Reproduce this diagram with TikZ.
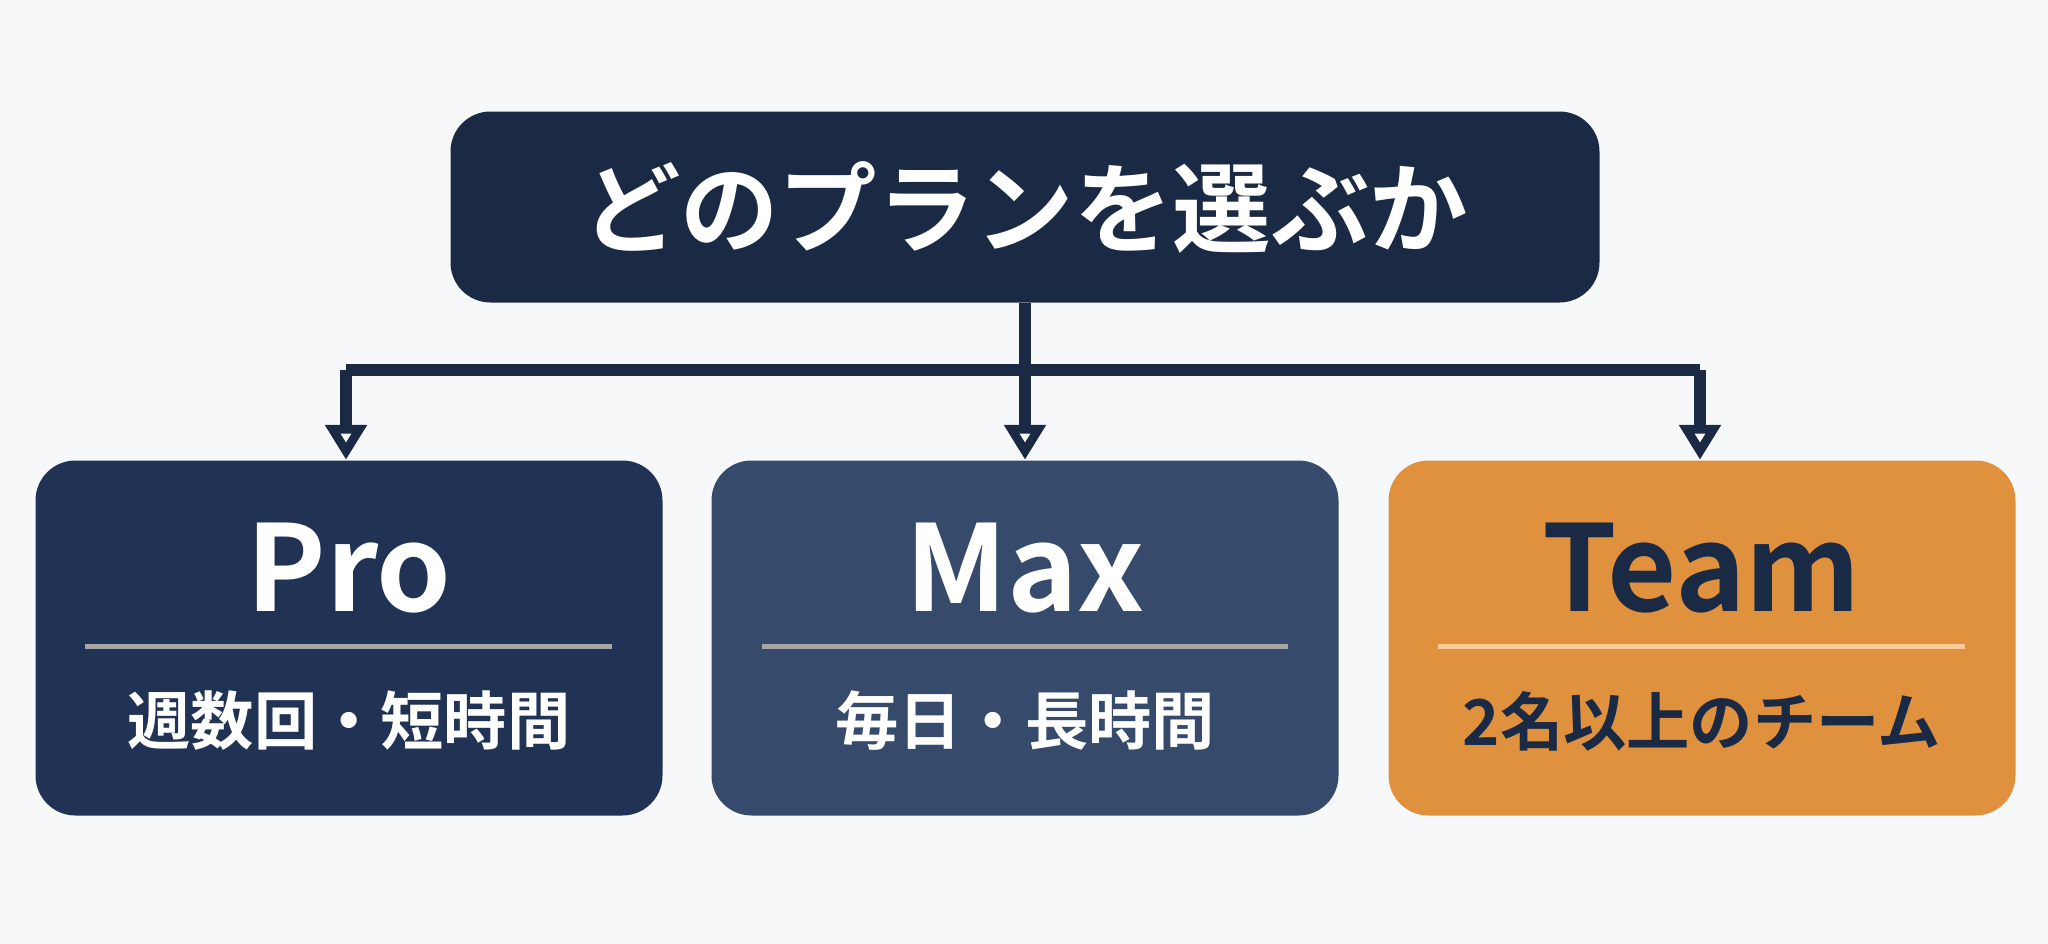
\documentclass[tikz,border=0pt]{standalone}
\usepackage{fontspec}
\setmainfont{Noto Sans CJK JP}[BoldFont={Noto Sans CJK JP Bold}]
\usetikzlibrary{arrows.meta,positioning}
\definecolor{topnavy}{HTML}{1B2A44}
\definecolor{pronavy}{HTML}{213354}
\definecolor{maxblue}{HTML}{364A6B}
\definecolor{teamorange}{HTML}{E0913E}
\definecolor{bgwhite}{HTML}{F7F8FA}
\tikzstyle{planbox}=[rectangle, rounded corners=4mm, minimum width=62.7mm, minimum height=35.5mm]
\tikzstyle{planname}=[font=\bfseries\fontsize{34}{38}\selectfont]
\tikzstyle{plannote}=[font=\bfseries\fontsize{18}{22}\selectfont]
\tikzstyle{link}=[draw=topnavy, line width=1.2mm]
\begin{document}
\begin{tikzpicture}[every node/.style={text=white}]
\fill[bgwhite] (0,0) rectangle (20.48,-9.44);

\node[planbox, fill=topnavy, minimum width=114.9mm, minimum height=19.1mm, font=\bfseries\fontsize{28}{32}\selectfont] (choose) at (10.25,-2.07) {どのプランを選ぶか};

\node[planbox, fill=pronavy] (pro) at (3.49,-6.38) {};
\node[planbox, fill=maxblue] (max) at (10.25,-6.38) {};
\node[planbox, fill=teamorange] (team) at (17.02,-6.38) {};

\node[planname] (pro-t) at (3.49,-5.68) {Pro};
\node[planname] (max-t) at (10.25,-5.68) {Max};
\node[planname, text=topnavy] (team-t) at (17.02,-5.68) {Team};
\draw[gray!70, line width=0.5mm] (0.85,-6.46) -- (6.12,-6.46);
\draw[gray!70, line width=0.5mm] (7.62,-6.46) -- (12.88,-6.46);
\draw[orange!40!white, line width=0.5mm] (14.38,-6.46) -- (19.65,-6.46);
\node[plannote] (pro-n) at (3.49,-7.21) {週数回・短時間};
\node[plannote] (max-n) at (10.25,-7.21) {毎日・長時間};
\node[plannote, text=topnavy] (team-n) at (17.02,-7.21) {2名以上のチーム};

\coordinate (split) at (10.25,-3.70);
\draw[link] (choose.south) -- (split);
\draw[link] (3.46,-3.70) -- (17.00,-3.70);
\draw[link,-{Triangle[open,length=3.5mm,width=4mm]}] (3.46,-3.70) -- (pro.north -| 3.46,0);
\draw[link,-{Triangle[open,length=3.5mm,width=4mm]}] (split) -- (max.north);
\draw[link,-{Triangle[open,length=3.5mm,width=4mm]}] (17.00,-3.70) -- (team.north -| 17.00,0);
\end{tikzpicture}
\end{document}
